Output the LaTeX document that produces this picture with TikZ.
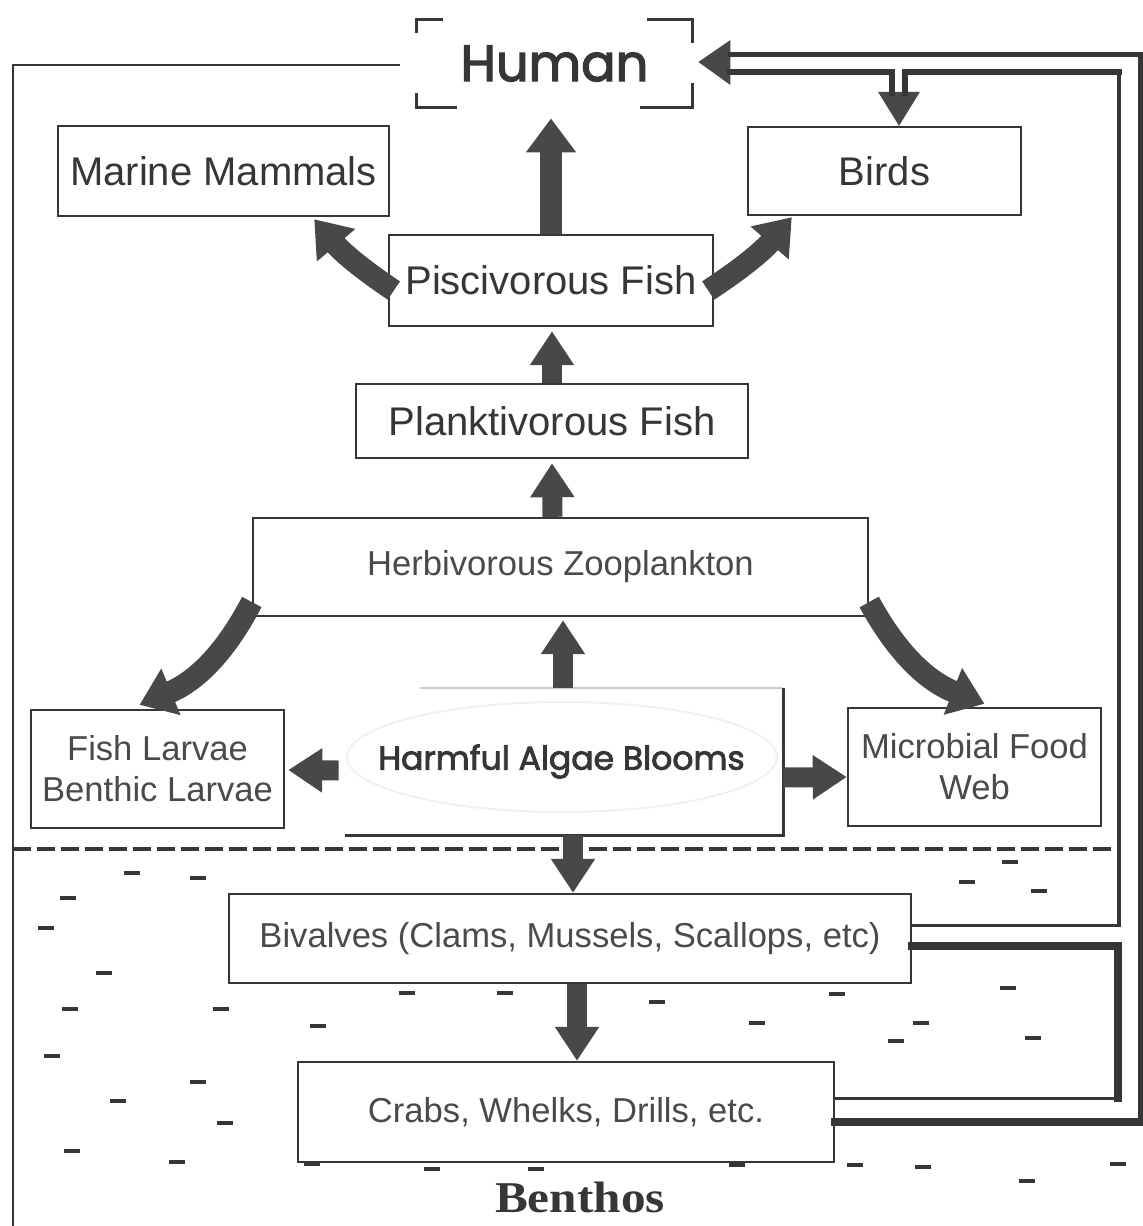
\documentclass[tikz,border=0pt]{standalone}
\usepackage{fontspec}
\setmainfont{Liberation Sans}
\newfontfamily\geomedium[FakeBold=2.6]{Poppins}
\newfontfamily\benthfont{Liberation Serif}
\usepackage{xcolor}
\usetikzlibrary{arrows.meta, calc}

\definecolor{inkgray}{HTML}{363636}
\definecolor{arrowgray}{HTML}{484848}
\definecolor{lightink}{HTML}{4A4A4A}

\tikzset{
  box/.style={draw=inkgray, line width=1.2pt, inner sep=0pt, text=inkgray},
  darklabel/.style={font=\fontsize{20}{24}\selectfont},
  lightlabel/.style={font=\fontsize{17.3}{20.5}\selectfont, text=lightink, align=center},
  fat/.style={arrowgray, line width=11pt, -{Triangle[width=24pt,length=17pt]}},
  slim/.style={arrowgray, line width=10pt, -{Triangle[width=21pt,length=17pt]}},
  pipe/.style={inkgray, line cap=rect},
  bracket/.style={inkgray, line width=1.6pt},
  seadash/.style={inkgray, line width=2pt}
}

\begin{document}
\begin{tikzpicture}[x=0.5pt, y=-0.5pt]
  \useasboundingbox (0,0) rectangle (1143,1226);

  % frame
  \draw[inkgray, line width=1.2pt] (400,65) -- (13,65) -- (13,1226);
  \draw[inkgray, line width=2pt, dash pattern=on 9pt off 3pt] (13,849) -- (1117,849);

  % water column
  \node[font=\geomedium\fontsize{25.5}{28}\selectfont, text=inkgray,
        minimum width=137.5pt, minimum height=43.5pt] (human) at (554.5,63.5) {Human};
  \node[box, darklabel, minimum width=165.5pt, minimum height=45pt] (mm) at (223.5,171) {Marine Mammals};
  \node[box, darklabel, minimum width=136.5pt, minimum height=44pt] (birds) at (884.5,171) {Birds};
  \node[box, darklabel, minimum width=162pt, minimum height=45.5pt] (pisc) at (551,280.5) {Piscivorous Fish};
  \node[box, darklabel, minimum width=196pt, minimum height=37pt] (plank) at (552,421) {Planktivorous Fish};
  \node[box, lightlabel, minimum width=307.5pt, minimum height=49pt] (herb) at (560.5,567) {Herbivorous Zooplankton};
  \node[box, lightlabel, minimum width=126.5pt, minimum height=59pt] (larvae) at (157.5,769) {Fish Larvae\\Benthic Larvae};
  \node[box, lightlabel, minimum width=126.5pt, minimum height=59pt] (micro) at (974.5,767) {Microbial Food\\Web};
  \draw[gray!12, line width=1pt] (562,757) ellipse (215 and 55);
  \node[font=\geomedium\fontsize{16.5}{20}\selectfont, text=inkgray,
        minimum width=221.5pt, minimum height=73.5pt] (hab) at (561.5,761.5) {Harmful Algae Blooms};

  % benthos
  \node[box, lightlabel, minimum width=341pt, minimum height=44.5pt] (biv) at (570,938.5) {Bivalves (Clams, Mussels, Scallops, etc)};
  \node[box, lightlabel, minimum width=268pt, minimum height=50pt] (crabs) at (566,1112) {Crabs, Whelks, Drills, etc.};
  \node[font=\benthfont\bfseries\fontsize{22}{24}\selectfont, text=inkgray] (benthos) at (580,1197) {\scalebox{1.12}[1]{Benthos}};

  \foreach \x/\y in {132/873, 198/878, 68/898, 46/928, 104/973, 70/1009, 221/1009,
    52/1056, 198/1082, 118/1101, 225/1123, 72/1151, 177/1162, 318/1026, 312/1164,
    407/993, 505/993, 657/1002, 757/1023, 432/1169, 536/1169, 737/1165,
    1010/862, 967/882, 1039/891, 837/994, 1008/988, 921/1023, 896/1041, 1033/1038,
    855/1165, 923/1167, 1027/1181, 1118/1164}
  {
    \draw[seadash] (\x-8,\y) -- (\x+8,\y);
  }

  % human box corners
  \draw[bracket] ($(human.north west)+(0,13)$) -- (human.north west) -- ++(26,0);
  \draw[bracket] ($(human.north east)+(-45,0)$) -- (human.north east) -- ++(0,23);
  \draw[bracket] ($(human.south west)+(0,-14)$) -- (human.south west) -- ++(40,0);
  \draw[bracket] ($(human.south east)+(-52,0)$) -- (human.south east) -- ++(0,-24);

  % algae box, open on the left
  \draw[gray!40, line width=1pt] ($(hab.north east)+(-363,0)$) -- (hab.north east);
  \draw[inkgray, line width=1.2pt] (hab.north east) -- (hab.south east) -- ++(-438,0);

  % feeding arrows
  \draw[fat, shorten >=5.5pt] (pisc.north) -- (pisc.north |- human.south);
  \draw[slim] (plank.north) -- ($(pisc.south)+(1,4)$);
  \draw[slim] ($(herb.north)+(-8,0)$) -- ($(plank.south)+(0,4)$);
  \draw[slim] ($(hab.north)+(1.5,0)$) -- ($(herb.south)+(2.5,3)$);
  \draw[fat] ($(pisc.west)+(6,10)$) to[bend left=8] ($(mm.south east)+(-76,2)$);
  \draw[fat] ($(pisc.east)+(-6,10)$) to[bend right=8] ($(birds.south west)+(45,1)$);
  \draw[fat] ($(herb.west)+(0,35)$) to[bend left=20] ($(larvae.north)+(-18,-4)$);
  \draw[fat] ($(herb.east)+(0,35)$) to[bend right=20] ($(micro.north)+(10,-3)$);
  \draw[slim] ($(hab.west)+(-1,9)$) -- ($(larvae.east)+(3,1)$);
  \draw[slim] ($(hab.east)+(0,16)$) -- ($(micro.west)+(0,10)$);
  \draw[slim] ($(hab.south)+(11.5,0)$) -- ($(biv.north)+(3,0)$);
  \draw[slim] ($(biv.south)+(7,0)$) -- ($(crabs.north)+(11,0)$);

  % return pipe to human and birds
  \coordinate (tipH) at ($(human.east)+(6,-1.5)$);
  \coordinate (tipB) at ($(birds.north)+(14.5,0)$);
  \fill[arrowgray] (tipH) -- ++(32,-22) -- ++(0,45) -- cycle;
  \fill[arrowgray] (tipB) -- ++(-21,-34) -- ++(42,0) -- cycle;
  \draw[pipe, line width=2.5pt] (730,54) -- (1140,54) -- (1140,1122);
  \draw[pipe, line width=4pt] (1140,1122) -- ($(crabs.east)+(0,10)$);
  \draw[pipe, line width=3pt] (730,72) -- (892,72) -- (892,93);
  \draw[pipe, line width=3pt] (905,93) -- (905,72) -- (1119,72);
  \draw[pipe, line width=2pt] (1119,72) -- (1119,925);
  \draw[pipe, line width=1.5pt] (1119,925) -- ($(biv.east)+(0,-13.5)$);
  \draw[pipe, line width=4pt] ($(biv.east)+(0,7.5)$) -- (1118,946) -- (1118,1098);
  \draw[pipe, line width=1.5pt] (1118,1098) -- ($(crabs.east)+(0,-14)$);
\end{tikzpicture}
\end{document}
